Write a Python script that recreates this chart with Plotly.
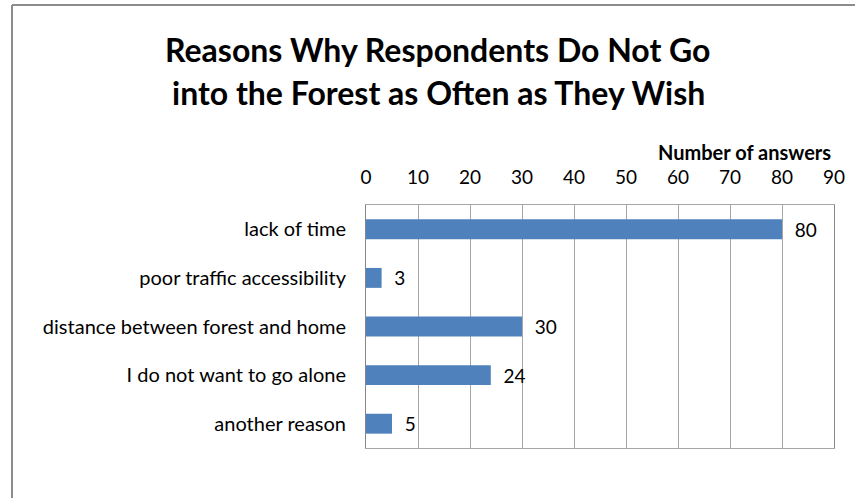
import plotly.graph_objects as go

categories = ["lack of time", "poor traffic accessibility", "distance between forest and home",
              "I do not want to go alone", "another reason"]
values = [80, 3, 30, 24, 5]
tick_vals = [0, 10, 20, 30, 40, 50, 60, 70, 80, 90]
title_lines = ["Reasons Why Respondents Do Not Go", "into the Forest as Often as They Wish"]
axis_title = "Number of answers"

W, H = 855, 498
L, R, T, B = 366, 834, 205, 448

def px(x):
    return (x - L) / (R - L)

def py(y):
    return (B - y) / (B - T)

FONT = "Lato"

fig = go.Figure(go.Bar(
    x=values, y=categories, orientation="h",
    marker=dict(color="#4F81BD", line=dict(width=0)),
    width=0.41,
    text=values, texttemplate="  %{x}", textposition="outside",
    constraintext="none",
    textfont=dict(family=FONT, size=19, color="#000000"),
    cliponaxis=False,
))

fig.update_layout(
    width=W, height=H,
    margin=dict(l=L, r=W - R, t=T, b=H - B, autoexpand=False),
    paper_bgcolor="white", plot_bgcolor="white",
    showlegend=False,
    font=dict(family=FONT, size=19, color="#000000"),
    xaxis=dict(side="top", range=[0, 90], tickvals=tick_vals, ticktext=[str(v) for v in tick_vals],
               showgrid=True, gridcolor="#A6A6A6", gridwidth=1,
               showline=True, linecolor="#A6A6A6", mirror=True, zeroline=False,
               ticks="outside", ticklen=12, tickcolor="rgba(0,0,0,0)",
               tickfont=dict(family=FONT, size=19), fixedrange=True),
    yaxis=dict(categoryorder="array", categoryarray=categories, autorange="reversed",
               showgrid=False, showline=True, linecolor="#868686", mirror=True,
               ticks="outside", ticklen=15, tickcolor="rgba(0,0,0,0)",
               tickfont=dict(family=FONT, size=20)),
    bargap=0.59,
)

annotations = [
    dict(text="<b>%s</b>" % title_lines[0], x=px(438), y=py(50), xref="paper", yref="paper",
         showarrow=False, xanchor="center", yanchor="middle", font=dict(family=FONT, size=32)),
    dict(text="<b>%s</b>" % title_lines[1], x=px(438), y=py(92), xref="paper", yref="paper",
         showarrow=False, xanchor="center", yanchor="middle", font=dict(family=FONT, size=32)),
    dict(text="<b>%s</b>" % axis_title, x=px(833), y=py(152), xref="paper", yref="paper",
         showarrow=False, xanchor="right", yanchor="middle", font=dict(family=FONT, size=20)),
]
fig.update_layout(annotations=annotations)

frame = dict(color="#8C8C8C", width=2)
fig.add_shape(type="line", xref="paper", yref="paper", x0=px(12), x1=px(856), y0=py(5), y1=py(5), line=frame)
fig.add_shape(type="line", xref="paper", yref="paper", x0=px(12), x1=px(12), y0=py(5), y1=py(500), line=frame)

fig.write_html("out.html", config={"displayModeBar": False},
               post_script="document.body.style.margin='0';document.body.style.overflow='hidden';")
